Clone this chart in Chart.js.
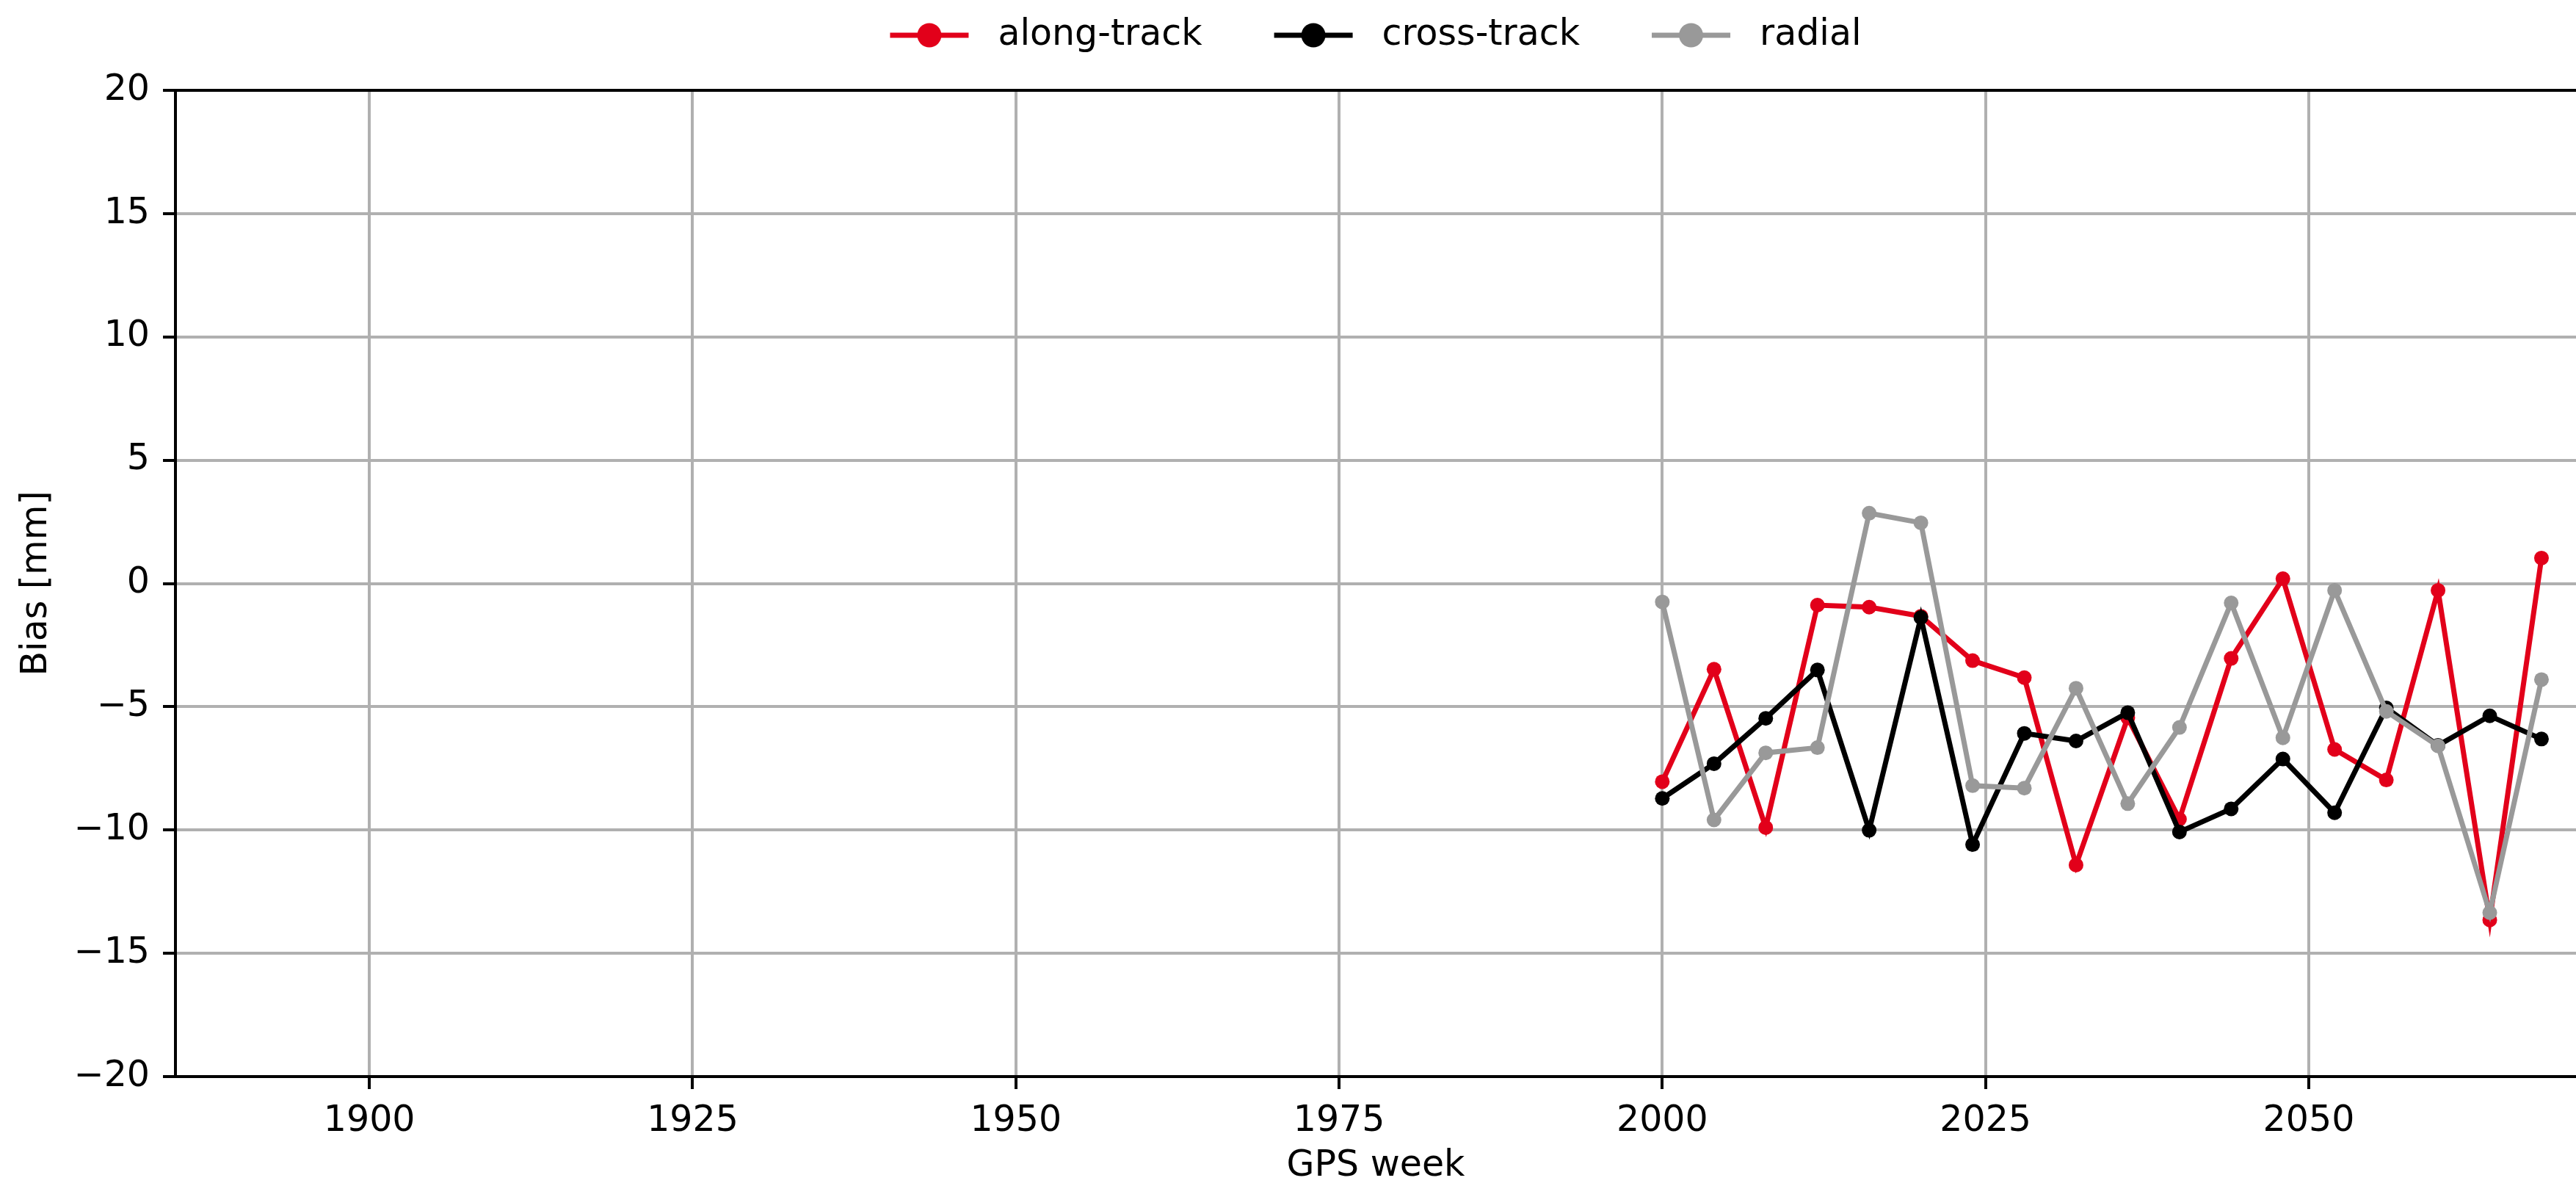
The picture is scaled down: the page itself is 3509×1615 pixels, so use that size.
<!DOCTYPE html>
<html>
<head>
<meta charset="utf-8">
<script src="https://cdn.jsdelivr.net/npm/chart.js@4.4.1/dist/chart.umd.min.js"></script>
<style>
  html, body { margin: 0; padding: 0; background: #fff; overflow: hidden; }
  #wrap { width: 3509px; height: 1615px; }
  canvas { display: block; }
</style>
</head>
<body>
<div id="wrap"><canvas id="biasChart" width="3509" height="1615"></canvas></div>
<script>
// GPS weeks (every 4 weeks)
const weeks = [2000, 2004, 2008, 2012, 2016, 2020, 2024, 2028, 2032, 2036, 2040, 2044, 2048, 2052, 2056, 2060, 2064, 2068];

// bias values in mm
const alongTrack = [-8.04, -3.48, -9.90, -0.88, -0.96, -1.33, -3.13, -3.82, -11.42, -5.45, -9.56, -3.04, 0.19, -6.73, -7.97, -0.28, -13.65, 1.03];
const crossTrack = [-8.72, -7.31, -5.47, -3.51, -10.01, -1.38, -10.59, -6.08, -6.39, -5.24, -10.08, -9.14, -7.12, -9.30, -5.05, -6.57, -5.37, -6.31];
const radial = [-0.75, -9.59, -6.87, -6.66, 2.85, 2.46, -8.20, -8.30, -4.25, -8.93, -5.84, -0.79, -6.26, -0.28, -5.19, -6.59, -13.35, -3.90];

// axis ticks
const xTicks = [1900, 1925, 1950, 1975, 2000, 2025, 2050];
const yTicks = [-20, -15, -10, -5, 0, 5, 10, 15, 20];

const FONT = 'DejaVu Sans';
const FS = 49;

function toPoints(values) {
  return weeks.map((w, i) => ({ x: w, y: values[i] }));
}

// legend drawn like matplotlib's (line + marker), plus the top frame line
const frameAndLegend = {
  id: 'frameAndLegend',
  afterDraw: (chart) => {
    const { ctx, chartArea } = chart;

    // top spine
    ctx.save();
    ctx.beginPath();
    ctx.moveTo(chartArea.left, chartArea.top);
    ctx.lineTo(chartArea.right, chartArea.top);
    ctx.lineWidth = 4;
    ctx.strokeStyle = '#000';
    ctx.stroke();
    ctx.restore();

    // legend
    ctx.save();
    ctx.font = FS + 'px "' + FONT + '"';
    const lineLen = 107, textGap = 40, itemGap = 98;
    const items = chart.data.datasets.map(ds => ({
      label: ds.label, color: ds.borderColor, w: ctx.measureText(ds.label).width
    }));
    let total = 0;
    items.forEach((it, i) => {
      total += lineLen + textGap + it.w + (i < items.length - 1 ? itemGap : 0);
    });
    let x = (chartArea.left + chartArea.right) / 2 - total / 2;
    const y = 48;
    items.forEach(it => {
      ctx.beginPath();
      ctx.moveTo(x, y);
      ctx.lineTo(x + lineLen, y);
      ctx.lineWidth = 7;
      ctx.strokeStyle = it.color;
      ctx.stroke();
      ctx.beginPath();
      ctx.arc(x + lineLen / 2, y, 16.5, 0, Math.PI * 2);
      ctx.fillStyle = it.color;
      ctx.fill();
      ctx.fillStyle = '#000';
      ctx.textBaseline = 'middle';
      ctx.textAlign = 'left';
      ctx.fillText(it.label, x + lineLen + textGap, y);
      x += lineLen + textGap + it.w + itemGap;
    });
    ctx.restore();
  }
};

const lineStyle = (color) => ({
  borderColor: color,
  backgroundColor: color,
  pointBackgroundColor: color,
  pointBorderColor: color,
  borderWidth: 7,
  pointRadius: 10,
  pointBorderWidth: 0,
  pointHoverRadius: 10,
  fill: false,
  tension: 0
});

const ctx = document.getElementById('biasChart').getContext('2d');
new Chart(ctx, {
  type: 'line',
  data: {
    datasets: [
      { label: 'along-track', data: toPoints(alongTrack), order: 3, ...lineStyle('#e2001a') },
      { label: 'cross-track', data: toPoints(crossTrack), order: 2, ...lineStyle('#000000') },
      { label: 'radial', data: toPoints(radial), order: 1, ...lineStyle('#999999') }
    ]
  },
  options: {
    responsive: false,
    animation: false,
    devicePixelRatio: 1,
    // plot runs right up to the canvas edge, so no auto padding for the markers
    layout: { autoPadding: false, padding: { top: 123, right: 0, left: 0, bottom: 0 } },
    plugins: {
      legend: { display: false },
      tooltip: { enabled: false }
    },
    scales: {
      x: {
        type: 'linear',
        min: 1885,
        max: 2070.67,
        afterBuildTicks: (scale) => { scale.ticks = xTicks.map(v => ({ value: v })); },
        afterFit: (scale) => { scale.height = 149; },
        grid: { color: '#b0b0b0', lineWidth: 4, tickColor: '#000', tickLength: 17, tickWidth: 4 },
        border: { color: '#000', width: 4 },
        ticks: {
          color: '#000',
          font: { family: FONT, size: FS },
          padding: 15,
          maxRotation: 0,
          autoSkip: false,
          callback: (v) => String(v)
        },
        title: { display: true, text: 'GPS week', color: '#000', font: { family: FONT, size: FS, lineHeight: 1.1 }, padding: { top: 0, bottom: 0 } }
      },
      y: {
        min: -20,
        max: 20,
        afterBuildTicks: (scale) => { scale.ticks = yTicks.map(v => ({ value: v })); },
        afterFit: (scale) => { scale.width = 239; },
        grid: { color: '#b0b0b0', lineWidth: 4, tickColor: '#000', tickLength: 17, tickWidth: 4 },
        border: { color: '#000', width: 4 },
        ticks: {
          color: '#000',
          font: { family: FONT, size: FS },
          padding: 18,
          callback: (v) => v < 0 ? '\u2212' + Math.abs(v) : String(v)
        },
        title: { display: true, text: 'Bias [mm]', color: '#000', font: { family: FONT, size: FS, lineHeight: 1.1 }, padding: { top: 23, bottom: 0 } }
      }
    }
  },
  plugins: [frameAndLegend]
});
</script>
</body>
</html>
